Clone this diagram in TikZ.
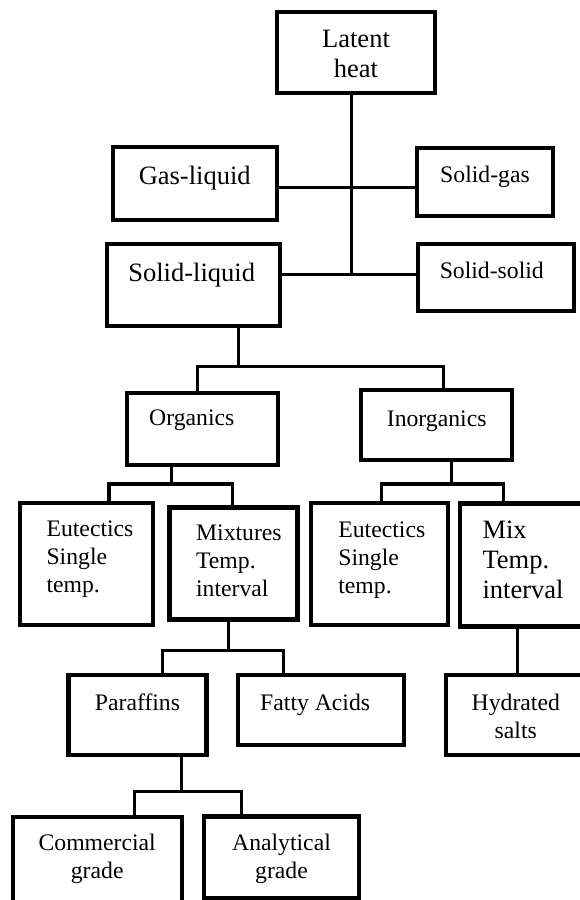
\documentclass[tikz,border=0pt]{standalone}
\usepackage{fontspec}
\setmainfont{Liberation Serif}
\tikzset{
  box/.style={draw, rectangle, line width=4.2pt, inner sep=0pt, font=\fontsize{23.7}{28}\selectfont},
  big/.style={font=\fontsize{26.5}{30}\selectfont},
  link/.style={line width=3.5pt}
}
% text inside a box: x shift, raise of first baseline, column type, lines
\newcommand{\boxtext}[4]{\makebox[0pt]{\hspace*{#1}\raisebox{#2}[0pt][0pt]{\begin{tabular}[t]{@{}#3@{}}#4\end{tabular}}\hspace*{-#1}}}

\begin{document}
\begin{tikzpicture}[x=1pt,y=-1pt]
\useasboundingbox (0,0) rectangle (580,900);
\node[box,big,minimum width=158,minimum height=81] (lat) at (356,52.5) {\boxtext{0pt}{4.8pt}{c}{Latent\\heat}};
\node[box,big,minimum width=164,minimum height=73] (gasl) at (194.7,183.3) {\boxtext{0pt}{-1pt}{c}{Gas-liquid}};
\node[box,minimum width=136,minimum height=68] (solg) at (485,181.8) {\boxtext{0pt}{-0.9pt}{c}{Solid-gas}};
\node[box,big,minimum width=173,minimum height=82] (solidl) at (193.3,285) {\boxtext{-1.6pt}{3.3pt}{c}{Solid-liquid}};
\node[box,minimum width=156,minimum height=67] (solids) at (495.8,277.3) {\boxtext{-4pt}{-1pt}{c}{Solid-solid}};
\node[box,minimum width=151,minimum height=72] (org) at (202.8,428.8) {\boxtext{-11pt}{3.1pt}{c}{Organics}};
\node[box,minimum width=151,minimum height=70] (inorg) at (436.7,425) {\boxtext{0pt}{-1pt}{c}{Inorganics}};
\node[box,minimum width=133,minimum height=122] (eut1) at (86.7,564.2) {\boxtext{3.3pt}{27.5pt}{l}{Eutectics\\Single\\temp.}};
\node[box,minimum width=128,minimum height=112] (mixt) at (233.5,563.5) {\boxtext{5.4pt}{23.5pt}{l}{Mixtures\\Temp.\\interval}};
\node[box,minimum width=137,minimum height=122] (eut2) at (379.3,564.2) {\boxtext{2.5pt}{26.9pt}{l}{Eutectics\\Single\\temp.}};
\node[box,big,minimum width=126,minimum height=123] (mix) at (523,565) {\boxtext{0pt}{26.7pt}{l}{Mix\\Temp.\\interval}};
\node[box,minimum width=138,minimum height=80] (par) at (137.5,715) {\boxtext{0pt}{5pt}{c}{Paraffins}};
\node[box,minimum width=166,minimum height=70] (fatty) at (321.2,710) {\boxtext{-6pt}{0pt}{c}{Fatty Acids}};
\node[box,minimum width=140,minimum height=80] (hyd) at (515.8,715) {\boxtext{0pt}{5pt}{c}{Hydrated\\salts}};
\node[box,minimum width=169,minimum height=103] (comm) at (97.2,868.3) {\boxtext{0pt}{18.3pt}{c}{Commercial\\grade}};
\node[box,minimum width=155,minimum height=82] (anal) at (281.5,857.5) {\boxtext{0pt}{7.5pt}{c}{Analytical\\grade}};
\coordinate (t1) at (351.7,187.3);
\coordinate (t2) at (351.7,274.3);
\draw[link] (lat.south -| t1) -- (t2);
\draw[link] (gasl.east |- t1) -- (solg.west |- t1);
\draw[link] (solidl.east |- t2) -- (solids.west |- t2);
\foreach \p/\px/\yy/\l/\lx/\r/\rx in {solidl/238.3/366.7/org/197.3/inorg/443.3,
  org/171.7/484/eut1/109/mixt/232.3, inorg/451.7/484/eut2/381.7/mix/503.3,
  mixt/228.3/650.7/par/162.3/fatty/283.3, par/181.7/791.7/comm/134.3/anal/241.7}
{
  \draw[link] (\p.south -| \px,0) -- (\px,\yy);
  \draw[link] (\l.north -| \lx,0) -- (\lx,\yy) -- (\rx,\yy) -- (\r.north -| \rx,0);
}
\draw[link] (mix.south -| 517.3,0) -- (hyd.north -| 517.3,0);
\end{tikzpicture}
\end{document}
